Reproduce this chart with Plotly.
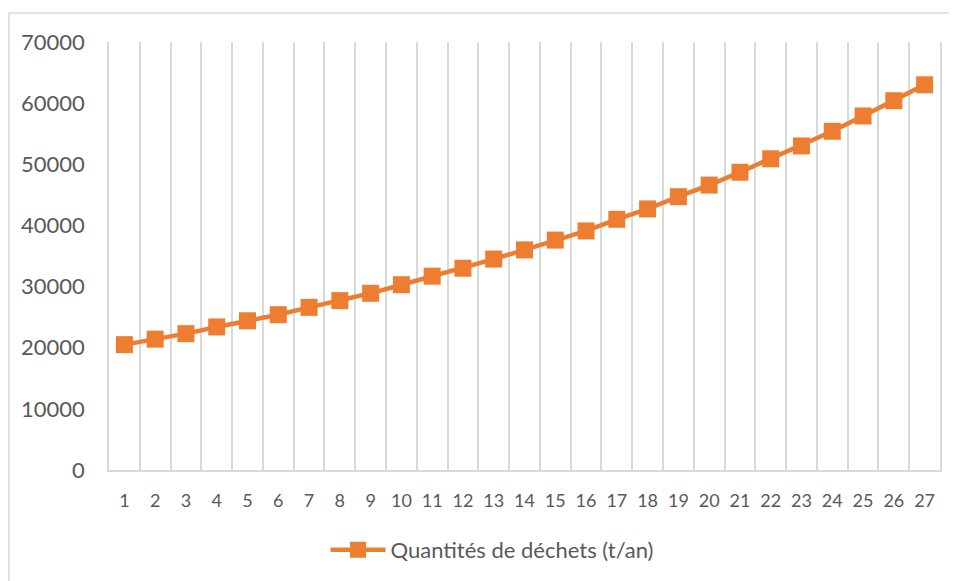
import plotly.graph_objects as go

categories = [str(i) for i in range(1, 28)]
values = [20500, 21400, 22300, 23400, 24400, 25400, 26600, 27700, 28900, 30300,
          31700, 33000, 34500, 36000, 37600, 39100, 41000, 42700, 44700, 46600,
          48700, 50900, 53000, 55400, 57900, 60400, 63000]
series_name = "Quantités de déchets (t/an)"
y_ticks = [0, 10000, 20000, 30000, 40000, 50000, 60000, 70000]

ORANGE = "#ED7D31"
GRID = "#D9D9D9"
TXT = "#595959"
FONT = "Lato, 'Open Sans', sans-serif"

# page body has an 8px margin: the figure starts at (8, 8) in the window
OFF = 8
WIN_W, WIN_H = 957, 581
W, H = WIN_W - OFF, WIN_H - OFF
# reference plot area in window px
PL, PR, PT, PB = 109, 940, 42, 470
L, R, T, B = PL - OFF, W - (PR - OFF), PT - OFF, H - (PB - OFF)
pw, ph = W - L - R, H - T - B

def px_to_paper_x(px):
    return (px - PL) / pw

def px_to_paper_y(py):
    return (PB - py) / ph

fig = go.Figure()
fig.add_trace(go.Scatter(
    x=categories, y=values, name=series_name,
    mode="lines+markers",
    line=dict(color=ORANGE, width=4.5),
    marker=dict(symbol="square", size=17, color=ORANGE),
    showlegend=True, cliponaxis=False,
))

fig.add_shape(type="rect", xref="paper", yref="paper",
              x0=px_to_paper_x(9), x1=px_to_paper_x(WIN_W + 20),
              y0=px_to_paper_y(WIN_H + 20), y1=px_to_paper_y(13),
              line=dict(color=GRID, width=1.5), fillcolor="rgba(0,0,0,0)", layer="below")

fig.update_layout(
    width=W, height=H,
    margin=dict(l=L, r=R, t=T, b=B, autoexpand=False),
    paper_bgcolor="white", plot_bgcolor="white",
    font=dict(family=FONT, color=TXT, size=18),
    legend=dict(orientation="h", x=px_to_paper_x(492), y=px_to_paper_y(550),
                xanchor="center", yanchor="middle",
                font=dict(size=22, color=TXT), itemwidth=55,
                bgcolor="rgba(0,0,0,0)"),
    xaxis=dict(type="category", tickson="boundaries", showgrid=True,
               range=[-0.5, len(categories) - 0.5],
               gridcolor=GRID, gridwidth=1.5, automargin=False,
               showline=True, linecolor=GRID, linewidth=1.5,
               ticks="", tickangle=0, tickfont=dict(size=18, color=TXT),
               ticklabelstandoff=14, zeroline=False),
    yaxis=dict(range=[0, 70000], tickvals=y_ticks, automargin=False,
               ticktext=[str(v) for v in y_ticks],
               showgrid=False, zeroline=False,
               showline=True, mirror=True, linecolor=GRID, linewidth=1.5,
               ticks="", tickfont=dict(size=22, color=TXT),
               ticklabelstandoff=18),
)

fig.write_html("out.html")
